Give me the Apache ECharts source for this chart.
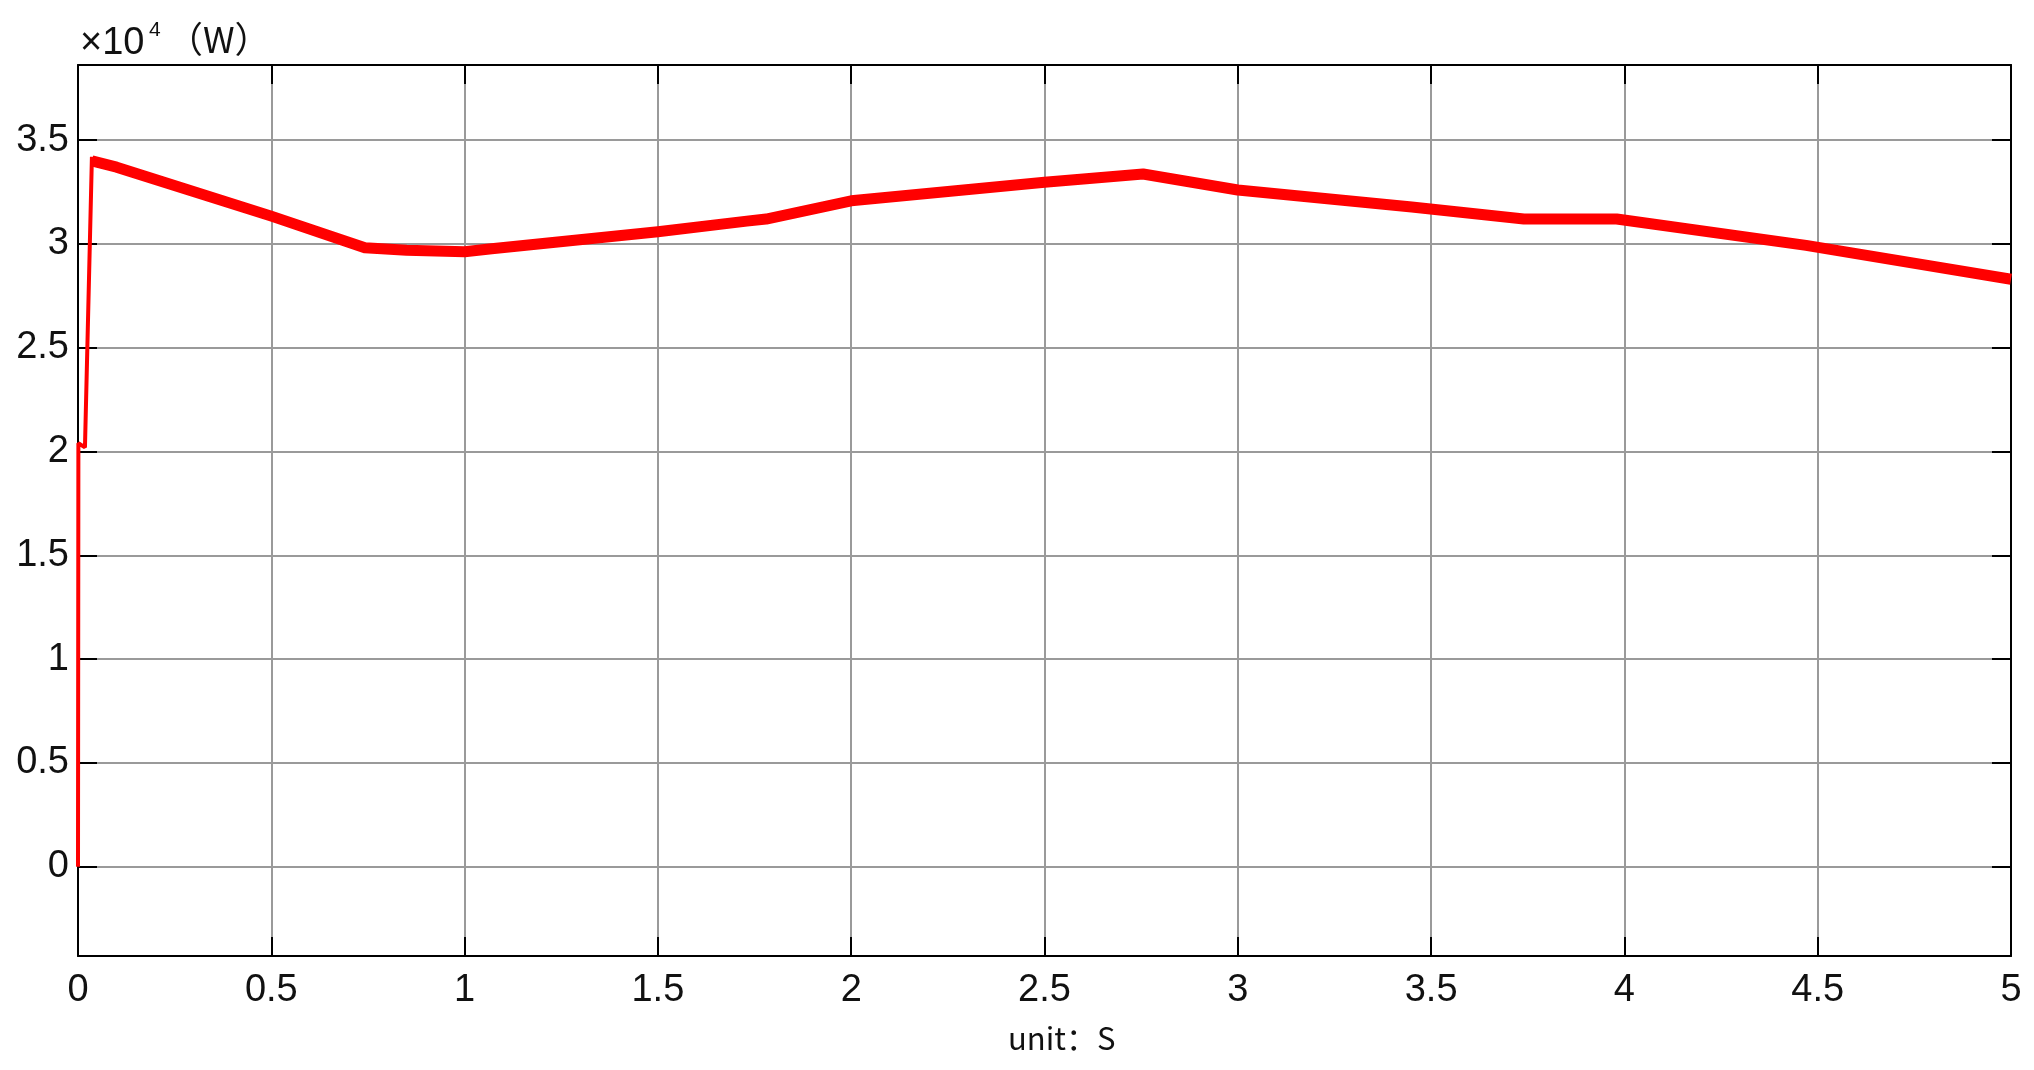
<!DOCTYPE html>
<html>
<head>
<meta charset="utf-8">
<script src="https://cdn.jsdelivr.net/npm/echarts@6/dist/echarts.min.js"></script>
<style>
html, body { margin: 0; padding: 0; background: #fff; }
#echart_el { width: 2034px; height: 1070px; }
</style>
</head>
<body>
<div id="echart_el"></div>
<script>
// x ticks (s)
const x_ticks = [0, 0.5, 1, 1.5, 2, 2.5, 3, 3.5, 4, 4.5, 5];

// start-up transient, thin trace (time in s, power in 1e4 W)
const start_time = [0, 0.001, 0.018, 0.036];
const start_power = [0, 2.04, 2.02, 3.42];

// noisy steady band, read along its middle
const band_time = [0.036, 0.1, 0.5, 0.742, 0.85, 1.0, 1.07, 1.5, 1.73, 1.78, 2.0, 2.5, 2.755, 3.0, 3.45, 3.74, 3.98, 4.47, 5.0];
const band_power = [3.40, 3.37, 3.134, 2.982, 2.97, 2.962, 2.977, 3.059, 3.11, 3.12, 3.208, 3.297, 3.337, 3.26, 3.178, 3.12, 3.12, 2.993, 2.83];

const y_min = -0.43;
const y_max = 3.862;

const to_pairs = function (xs, ys) {
    return xs.map((x, i) => [x, ys[i]]);
};

const label_font = "Liberation Sans";
const cjk_font = "Noto Sans CJK SC";

const tick_style = {
    show: true,
    inside: true,
    length: 19,
    lineStyle: { color: "#000", width: 2 },
};
const axis_line = {
    show: true,
    onZero: false,
    lineStyle: { color: "#000", width: 2 },
};
const split_line = {
    show: true,
    lineStyle: { color: "#9a9a9a", width: 2 },
};

const chart = echarts.init(document.getElementById("echart_el"));

const config = {
    animation: false,
    backgroundColor: "#fff",
    textStyle: { fontFamily: label_font },
    grid: { left: 78, right: 23, top: 65, bottom: 114, containLabel: false },
    xAxis: [
        {
            type: "value",
            min: x_ticks[0],
            max: x_ticks[x_ticks.length - 1],
            interval: 0.5,
            axisLine: axis_line,
            axisTick: tick_style,
            splitLine: split_line,
            axisLabel: {
                margin: 16,
                color: "#111",
                fontSize: 38,
                fontFamily: label_font,
            },
        },
        {
            type: "value",
            position: "top",
            min: x_ticks[0],
            max: x_ticks[x_ticks.length - 1],
            interval: 0.5,
            axisLine: axis_line,
            axisTick: tick_style,
            splitLine: { show: false },
            axisLabel: { show: false },
        },
    ],
    yAxis: [
        {
            type: "value",
            min: y_min,
            max: y_max,
            splitNumber: 8,
            axisLine: axis_line,
            axisTick: tick_style,
            splitLine: split_line,
            axisLabel: {
                margin: 9,
                color: "#111",
                fontSize: 38,
                fontFamily: label_font,
                showMinLabel: false,
                showMaxLabel: false,
            },
        },
        {
            type: "value",
            position: "right",
            min: y_min,
            max: y_max,
            splitNumber: 8,
            axisLine: axis_line,
            axisTick: tick_style,
            splitLine: { show: false },
            axisLabel: { show: false },
        },
    ],
    graphic: [
        {
            type: "text",
            left: 80,
            top: 25,
            style: { text: "×10", font: "38px " + label_font, fill: "#111" },
        },
        {
            type: "text",
            left: 149,
            top: 20,
            style: { text: "4", font: "21px " + label_font, fill: "#111" },
        },
        {
            type: "text",
            left: 167,
            top: 21,
            style: { text: "（W）", font: "36px '" + cjk_font + "'", fill: "#111" },
        },
        {
            type: "text",
            left: 1008,
            top: 1023,
            style: { text: "unit：S", font: "31px '" + cjk_font + "'", fill: "#111" },
        },
    ],
    series: [
        {
            name: "start",
            type: "line",
            xAxisIndex: 0,
            yAxisIndex: 0,
            showSymbol: false,
            data: to_pairs(start_time, start_power),
            lineStyle: { color: "#ff0000", width: 4 },
            z: 3,
        },
        {
            name: "power",
            type: "line",
            xAxisIndex: 0,
            yAxisIndex: 0,
            showSymbol: false,
            data: to_pairs(band_time, band_power),
            lineStyle: { color: "#ff0000", width: 11, join: "round" },
            z: 3,
        },
    ],
};

chart.setOption(config);
</script>
</body>
</html>
